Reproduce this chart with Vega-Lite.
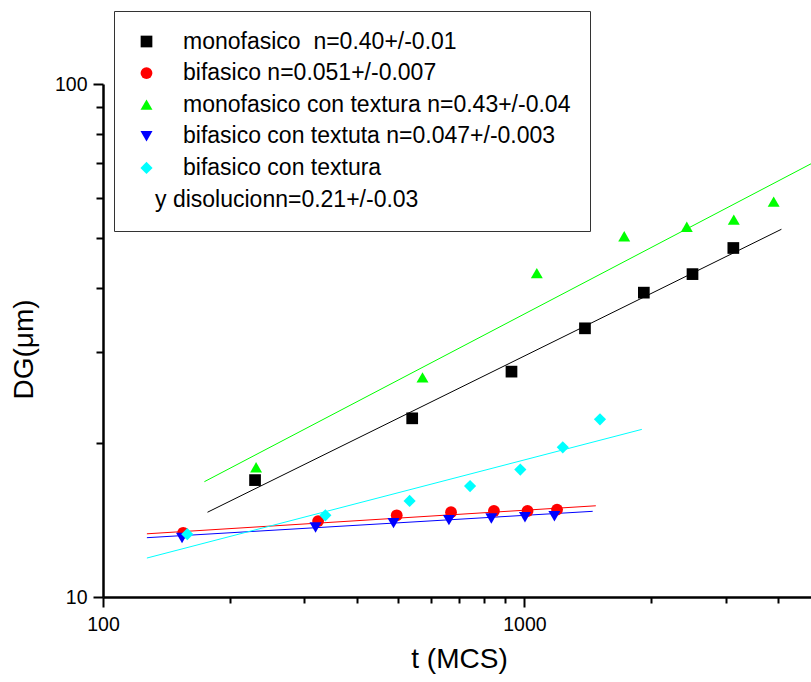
{
  "$schema": "https://vega.github.io/schema/vega-lite/v6.json",
  "width": 708,
  "height": 513,
  "autosize": {"type": "none"},
  "padding": {"left": 103, "top": 84, "right": 0, "bottom": 85},
  "background": "white",
  "config": {
    "font": "Liberation Sans",
    "view": {"stroke": null},
    "axis": {"grid": false, "domainColor": "black", "tickColor": "black", "labelColor": "black", "titleColor": "black", "titleFontWeight": "normal", "labelFont": "Liberation Sans", "titleFont": "Liberation Sans"}
  },
  "datasets": {
    "points": [
      {"series": "monofasico\u00a0 n=0.40+/-0.01", "t": 229.5, "dg": 16.9},
      {"series": "monofasico\u00a0 n=0.40+/-0.01", "t": 541.6, "dg": 22.3},
      {"series": "monofasico\u00a0 n=0.40+/-0.01", "t": 931.7, "dg": 27.5},
      {"series": "monofasico\u00a0 n=0.40+/-0.01", "t": 1392, "dg": 33.4},
      {"series": "monofasico\u00a0 n=0.40+/-0.01", "t": 1920, "dg": 39.2},
      {"series": "monofasico\u00a0 n=0.40+/-0.01", "t": 2505, "dg": 42.6},
      {"series": "monofasico\u00a0 n=0.40+/-0.01", "t": 3131, "dg": 47.9},
      {"series": "bifasico n=0.051+/-0.007", "t": 155, "dg": 13.34},
      {"series": "bifasico n=0.051+/-0.007", "t": 323.9, "dg": 14.06},
      {"series": "bifasico n=0.051+/-0.007", "t": 497.7, "dg": 14.43},
      {"series": "bifasico n=0.051+/-0.007", "t": 669.6, "dg": 14.63},
      {"series": "bifasico n=0.051+/-0.007", "t": 846.5, "dg": 14.71},
      {"series": "bifasico n=0.051+/-0.007", "t": 1017, "dg": 14.71},
      {"series": "bifasico n=0.051+/-0.007", "t": 1195, "dg": 14.8},
      {"series": "monofasico con textura n=0.43+/-0.04", "t": 230.8, "dg": 17.9},
      {"series": "monofasico con textura n=0.43+/-0.04", "t": 573, "dg": 26.8},
      {"series": "monofasico con textura n=0.43+/-0.04", "t": 1070, "dg": 42.8},
      {"series": "monofasico con textura n=0.43+/-0.04", "t": 1725, "dg": 50.5},
      {"series": "monofasico con textura n=0.43+/-0.04", "t": 2428, "dg": 52.7},
      {"series": "monofasico con textura n=0.43+/-0.04", "t": 3139, "dg": 54.4},
      {"series": "monofasico con textura n=0.43+/-0.04", "t": 3903, "dg": 59.0},
      {"series": "bifasico con textuta n=0.047+/-0.003", "t": 154, "dg": 13.03},
      {"series": "bifasico con textuta n=0.047+/-0.003", "t": 319.4, "dg": 13.66},
      {"series": "bifasico con textuta n=0.047+/-0.003", "t": 489, "dg": 13.93},
      {"series": "bifasico con textuta n=0.047+/-0.003", "t": 662, "dg": 14.12},
      {"series": "bifasico con textuta n=0.047+/-0.003", "t": 834.6, "dg": 14.23},
      {"series": "bifasico con textuta n=0.047+/-0.003", "t": 1003, "dg": 14.31},
      {"series": "bifasico con textuta n=0.047+/-0.003", "t": 1178, "dg": 14.37},
      {"series": "bifasico con textura", "t": 158.5, "dg": 13.26},
      {"series": "bifasico con textura", "t": 337, "dg": 14.43},
      {"series": "bifasico con textura", "t": 534, "dg": 15.39},
      {"series": "bifasico con textura", "t": 743, "dg": 16.45},
      {"series": "bifasico con textura", "t": 977.7, "dg": 17.72},
      {"series": "bifasico con textura", "t": 1233, "dg": 19.58},
      {"series": "bifasico con textura", "t": 1511, "dg": 22.2}
    ],
    "fits": [
      {"series": "mono", "t": 177, "dg": 14.63},
      {"series": "mono", "t": 4072, "dg": 52.1},
      {"series": "monotex", "t": 174, "dg": 16.78},
      {"series": "monotex", "t": 4786, "dg": 69.9},
      {"series": "bi", "t": 127.1, "dg": 13.28},
      {"series": "bi", "t": 1477, "dg": 15.06},
      {"series": "bitex", "t": 127.1, "dg": 13.05},
      {"series": "bitex", "t": 1452, "dg": 14.69},
      {"series": "bitexdis", "t": 127.1, "dg": 11.91},
      {"series": "bitexdis", "t": 1899, "dg": 21.22}
    ]
  },
  "encoding": {
    "x": {
      "field": "t", "type": "quantitative",
      "scale": {"type": "log", "domain": [100, 4786], "nice": false},
      "axis": {
        "title": "t (MCS)",
        "values": [100, 200, 300, 400, 500, 600, 700, 800, 900, 1000, 2000, 3000, 4000],
        "labelExpr": "datum.value == 100 ? '100' : datum.value == 1000 ? '1000' : ''",
        "tickSize": {"condition": {"test": "datum.value == 100 || datum.value == 1000", "value": 10}, "value": 6},
        "tickWidth": 2, "domainWidth": 2.5,
        "labelFontSize": 19.5, "labelPadding": 8, "labelFlush": false, "labelOverlap": false,
        "titleFontSize": 28, "titleX": 356, "titleY": 70, "titleBaseline": "alphabetic", "titleAlign": "center"
      }
    },
    "y": {
      "field": "dg", "type": "quantitative",
      "scale": {"type": "log", "domain": [10, 100], "nice": false},
      "axis": {
        "title": "DG(\u03bcm)",
        "values": [10, 20, 30, 40, 50, 60, 70, 80, 90, 100],
        "labelExpr": "datum.value == 10 ? '10' : datum.value == 100 ? '100' : ''",
        "tickSize": {"condition": {"test": "datum.value == 10 || datum.value == 100", "value": 10}, "value": 7},
        "tickWidth": 2, "domainWidth": 2.5,
        "labelFontSize": 19.5, "labelPadding": 6, "labelFlush": false, "labelOverlap": false,
        "titleFontSize": 28, "titleX": -71, "titleY": 265, "titleBaseline": "alphabetic", "titleAlign": "center", "titleAngle": 270
      }
    }
  },
  "layer": [
    {
      "data": {"name": "fits"},
      "mark": {"type": "line", "strokeWidth": 1, "clip": true},
      "encoding": {
        "stroke": {
          "field": "series", "type": "nominal", "legend": null,
          "scale": {"domain": ["mono", "bi", "monotex", "bitex", "bitexdis"], "range": ["#000000", "#ff0000", "#00ff00", "#0000ff", "#00ffff"]}
        },
        "detail": {"field": "series"}
      }
    },
    {
      "data": {"name": "points"},
      "mark": {"type": "point", "filled": true, "opacity": 1},
      "encoding": {
        "color": {
          "field": "series", "type": "nominal",
          "scale": {
            "domain": ["monofasico\u00a0 n=0.40+/-0.01", "bifasico n=0.051+/-0.007", "monofasico con textura n=0.43+/-0.04", "bifasico con textuta n=0.047+/-0.003", "bifasico con textura", "y disolucionn=0.21+/-0.03"],
            "range": ["#000000", "#ff0000", "#00ff00", "#0000ff", "#00ffff", "#ffffff"]
          },
          "legend": {
            "title": null, "orient": "none", "legendX": 11, "legendY": -73,
            "strokeColor": "#333333", "fillColor": "white", "padding": 19,
            "labelFontSize": 23, "labelFont": "Liberation Sans", "labelColor": "black",
            "symbolOffset": 2, "labelOffset": 25, "rowPadding": 7.6, "labelLimit": 700,
            "symbolOpacity": 1,
            "labelExpr": "datum.label + '\u00a0\u00a0\u00a0\u00a0\u00a0\u00a0\u00a0\u00a0'",
            "encode": {"labels": {"update": {"dx": {"signal": "datum.value == 'y disolucionn=0.21+/-0.03' ? -28 : 0"}}}}
          }
        },
        "shape": {
          "field": "series", "type": "nominal",
          "scale": {
            "domain": ["monofasico\u00a0 n=0.40+/-0.01", "bifasico n=0.051+/-0.007", "monofasico con textura n=0.43+/-0.04", "bifasico con textuta n=0.047+/-0.003", "bifasico con textura", "y disolucionn=0.21+/-0.03"],
            "range": ["square", "circle", "triangle-up", "triangle-down", "diamond", "circle"]
          }
        },
        "size": {
          "field": "series", "type": "nominal",
          "scale": {
            "domain": ["monofasico\u00a0 n=0.40+/-0.01", "bifasico n=0.051+/-0.007", "monofasico con textura n=0.43+/-0.04", "bifasico con textuta n=0.047+/-0.003", "bifasico con textura", "y disolucionn=0.21+/-0.03"],
            "range": [137, 151, 196, 196, 169, 0]
          }
        }
      }
    }
  ]
}
